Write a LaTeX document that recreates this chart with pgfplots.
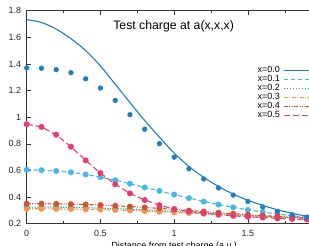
\documentclass[border=0pt]{standalone}
\usepackage{fontspec}
\setmainfont{Liberation Sans}
\usepackage{pgfplots}
\pgfplotsset{compat=1.18}
\definecolor{cA}{HTML}{1E7DC3}
\definecolor{cB}{HTML}{45B7E8}
\definecolor{cC}{HTML}{2AA890}
\definecolor{cD}{HTML}{F29455}
\definecolor{cE}{HTML}{D4502E}
\definecolor{cF}{HTML}{E83A70}
\begin{document}
\begin{tikzpicture}
\begin{axis}[
  scale only axis, width=295bp, height=213bp,
  xmin=0, xmax=2, ymin=0.2, ymax=1.8,
  xtick={0,0.5,1,1.5}, minor xtick={0.25,0.75,1.25,1.75},
  ytick={0.2,0.4,0.6,0.8,1.0,1.2,1.4,1.6,1.8},
  tick align=inside, major tick length=4.5bp, minor tick length=2.5bp,
  every tick/.style={black!80, line width=0.5bp},
  axis line style={line width=0.6bp, black!80},
  /pgf/number format/assume math mode=true,
  tick label style={font=\fontsize{9}{9}\selectfont, text=black!85},
  xticklabel style={inner sep=0pt, yshift=-6.3bp},
  yticklabel style={inner sep=0pt, xshift=-5.5bp},
  title={Test charge at a(x,x,x)},
  title style={font=\fontsize{12.3}{12.3}\selectfont, at={(axis description cs:0.498,1)}, anchor=north, inner sep=0pt, yshift=-15.3bp},
  xlabel={Distance from test charge (a.u.)},
  xlabel style={font=\fontsize{9}{9}\selectfont, at={(axis description cs:0.5,0)}, anchor=north, inner sep=0pt, yshift=-18.5bp},
  legend style={draw=none, fill=none, font=\fontsize{9}{9}\selectfont,
    at={(axis description cs:0.976,0.742)}, anchor=north east,
    row sep=0pt, column sep=3bp, inner sep=0pt,
    nodes={inner sep=0pt, text height=6.5bp, text depth=2.5bp}},
  legend cell align=right, legend plot pos=right,
  mark size=2.4bp,
]
\addplot[cA, line width=1.1bp, smooth, no marks, forget plot] coordinates {
(0,1.732)(0.1,1.712)(0.2,1.662)(0.3,1.59)(0.4,1.50)(0.5,1.385)(0.6,1.248)(0.7,1.11)(0.8,0.975)(0.9,0.85)(1.0,0.73)(1.1,0.63)(1.2,0.548)(1.3,0.48)(1.4,0.422)(1.5,0.376)(1.6,0.337)(1.7,0.305)(1.8,0.278)(1.9,0.256)(2.0,0.238)};
\addlegendimage{legend image code/.code={\draw[cA, line width=1.6bp] (0bp,0bp) -- (30bp,0bp);}}
\addlegendentry{x=0.0}
\addplot[cB, line width=1.1bp, dash pattern=on 4.5bp off 2.5bp, mark=*, mark options={solid, fill=cB}, forget plot] coordinates {
(0,0.605)(0.1,0.602)(0.2,0.596)(0.3,0.586)(0.4,0.570)(0.5,0.550)(0.6,0.527)(0.7,0.500)(0.8,0.472)(0.9,0.446)(1.0,0.419)(1.1,0.392)(1.2,0.367)(1.3,0.344)(1.4,0.323)(1.5,0.304)(1.6,0.288)(1.7,0.273)(1.8,0.259)(1.9,0.248)(2.0,0.238)};
\addlegendimage{legend image code/.code={\draw[cB, line width=1.6bp, dash pattern=on 4.5bp off 2.5bp] (0bp,0bp) -- (30bp,0bp);}}
\addlegendentry{x=0.1}
\addplot[cC, line width=1.1bp, dash pattern=on 1.3bp off 1.3bp, mark=*, mark options={solid, fill=cC}, forget plot] coordinates {
(0,0.325)(0.1,0.325)(0.2,0.324)(0.3,0.322)(0.4,0.320)(0.5,0.317)(0.6,0.313)(0.7,0.309)(0.8,0.304)(0.9,0.298)(1.0,0.292)(1.1,0.286)(1.2,0.280)(1.3,0.274)(1.4,0.268)(1.5,0.262)(1.6,0.256)(1.7,0.251)(1.8,0.246)(1.9,0.242)(2.0,0.238)};
\addlegendimage{legend image code/.code={\draw[cC, line width=1.6bp, dash pattern=on 1.5bp off 1.5bp] (0bp,0bp) -- (30bp,0bp);}}
\addlegendentry{x=0.2}
\addplot[cD, line width=1.1bp, dash pattern=on 4bp off 1.5bp on 1bp off 1.5bp, mark=*, mark options={solid, fill=cD}, forget plot] coordinates {
(0,0.312)(0.1,0.312)(0.2,0.311)(0.3,0.310)(0.4,0.308)(0.5,0.306)(0.6,0.303)(0.7,0.299)(0.8,0.295)(0.9,0.290)(1.0,0.285)(1.1,0.280)(1.2,0.274)(1.3,0.269)(1.4,0.264)(1.5,0.259)(1.6,0.254)(1.7,0.249)(1.8,0.245)(1.9,0.241)(2.0,0.237)};
\addlegendimage{legend image code/.code={\draw[cD, line width=1.6bp, dash pattern=on 4bp off 1.5bp on 1bp off 1.5bp] (0bp,0bp) -- (30bp,0bp);}}
\addlegendentry{x=0.3}
\addplot[cE, line width=1.1bp, dash pattern=on 4bp off 1.5bp on 1bp off 1.5bp on 1bp off 1.5bp, mark=*, mark options={solid, fill=cE}, forget plot] coordinates {
(0,0.350)(0.1,0.350)(0.2,0.349)(0.3,0.347)(0.4,0.344)(0.5,0.340)(0.6,0.335)(0.7,0.329)(0.8,0.322)(0.9,0.315)(1.0,0.307)(1.1,0.299)(1.2,0.291)(1.3,0.283)(1.4,0.275)(1.5,0.268)(1.6,0.261)(1.7,0.255)(1.8,0.249)(1.9,0.244)(2.0,0.239)};
\addlegendimage{legend image code/.code={\draw[cE, line width=1.6bp, dash pattern=on 4bp off 1.5bp on 1bp off 1.5bp on 1bp off 1.5bp] (0bp,0bp) -- (30bp,0bp);}}
\addlegendentry{x=0.4}
\addplot[cF, line width=1.1bp, dash pattern=on 6bp off 3bp, mark=*, mark options={solid, fill=cF}, forget plot] coordinates {
(0,0.947)(0.1,0.927)(0.2,0.868)(0.3,0.778)(0.4,0.676)(0.5,0.580)(0.6,0.496)(0.7,0.428)(0.8,0.378)(0.9,0.340)(1.0,0.310)(1.1,0.292)(1.2,0.280)(1.3,0.268)(1.4,0.259)(1.5,0.252)(1.6,0.246)(1.7,0.240)(1.8,0.235)(1.9,0.231)(2.0,0.227)};
\addlegendimage{legend image code/.code={\draw[cF, line width=1.6bp, dash pattern=on 6bp off 3bp] (0bp,0bp) -- (30bp,0bp);}}
\addlegendentry{x=0.5}
\addplot[cA, only marks, mark=*, mark options={fill=cA}, forget plot] coordinates {
(0,1.370)(0.1,1.368)(0.2,1.357)(0.3,1.334)(0.4,1.288)(0.5,1.219)(0.6,1.126)(0.7,1.019)(0.8,0.910)(0.9,0.801)(1.0,0.700)(1.1,0.613)(1.2,0.536)(1.3,0.469)(1.4,0.415)(1.5,0.367)(1.6,0.326)(1.7,0.293)(1.8,0.267)(1.9,0.248)(2.0,0.232)};
\end{axis}
\pgfresetboundingbox
\path[use as bounding box] (-26.7bp,-22.3bp) rectangle (282.3bp,223.7bp);
\end{tikzpicture}
\end{document}
